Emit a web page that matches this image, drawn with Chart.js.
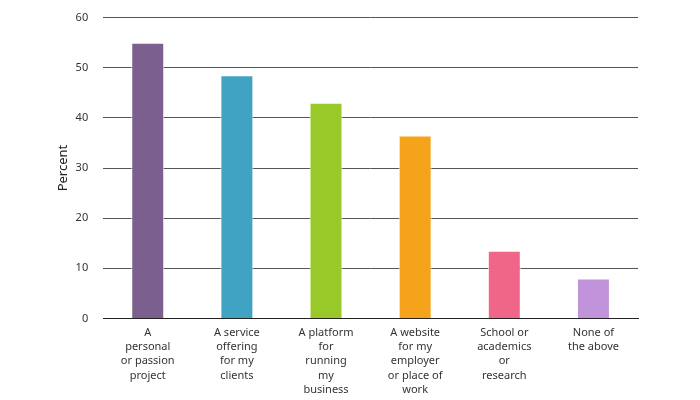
<!DOCTYPE html>
<html>
<head>
<meta charset="utf-8">
<script src="https://cdn.jsdelivr.net/npm/chart.js@4"></script>
<style>
  html, body { margin: 0; padding: 0; background: #fff; }
  #wrap { width: 700px; height: 400px; }
</style>
</head>
<body>
<div id="wrap"><canvas id="chart" width="700" height="400"></canvas></div>
<script>
const categories = [
  ["A", "personal", "or passion", "project"],
  ["A service", "offering", "for my", "clients"],
  ["A platform", "for", "running", "my", "business"],
  ["A website", "for my", "employer", "or place of", "work"],
  ["School or", "academics", "or", "research"],
  ["None of", "the above"]
]
const percentValues = [55, 48.5, 43, 36.5, 13.5, 8]
const barColors = ["#7b5f8f", "#41a3c3", "#99c928", "#f5a31a", "#ef6688", "#c193db"]
const yTicks = [0, 10, 20, 30, 40, 50, 60]

const fontFamily = "'Noto Sans', Lato, sans-serif"

new Chart(document.getElementById("chart"), {
  type: "bar",
  data: {
    labels: categories,
    datasets: [{
      label: "Percent",
      data: percentValues,
      backgroundColor: barColors,
      borderColor: "rgba(255,255,255,0.85)",
      borderWidth: 1,
      barPercentage: 0.37,
      categoryPercentage: 1
    }]
  },
  options: {
    responsive: false,
    animation: false,
    layout: { padding: { top: 0, right: 62, bottom: -4, left: 55 } },
    plugins: { legend: { display: false }, tooltip: { enabled: false } },
    scales: {
      x: {
        grid: { display: false, drawTicks: false },
        border: { color: "#222", width: 1 },
        ticks: {
          color: "#333",
          font: { family: fontFamily, size: 11, lineHeight: 1.3 },
          padding: 7,
          maxRotation: 0,
          autoSkip: false
        }
      },
      y: {
        min: 0,
        max: 60,
        afterBuildTicks: (axis) => { axis.ticks = yTicks.map(v => ({ value: v })) },
        // invisible tick marks keep the label gap without extra top padding
        grid: { color: "#555", lineWidth: 1, drawTicks: true, tickLength: 4, tickColor: "rgba(0,0,0,0)" },
        border: { display: false },
        ticks: {
          color: "#333",
          font: { family: fontFamily, size: 11 },
          padding: 11
        },
        title: {
          display: true,
          text: "Percent",
          color: "#222",
          font: { family: fontFamily, size: 13 },
          padding: { top: 0, bottom: -6 }
        }
      }
    }
  }
})
</script>
</body>
</html>
